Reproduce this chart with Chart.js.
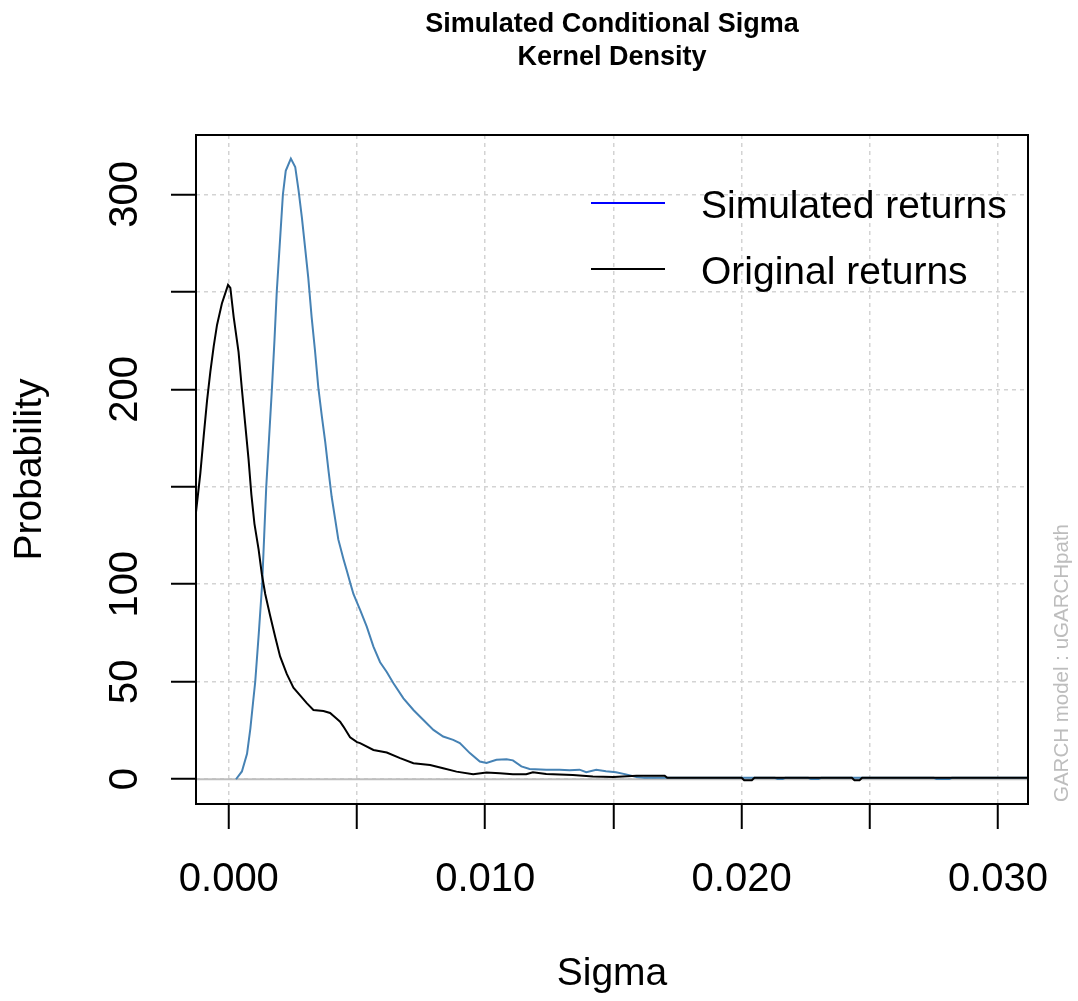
<!DOCTYPE html>
<html lang="en">
  <head>
    <meta charset="UTF-8" />
    <title>Simulated Conditional Sigma - Kernel Density</title>
    <script src="https://cdn.jsdelivr.net/npm/chart.js"></script>
    <style>
      html,
      body {
        margin: 0;
        padding: 0;
        background: #fff;
      }
      canvas {
        display: block;
      }
    </style>
  </head>
  <body>
    <canvas id="densityChart" width="1078" height="1001"></canvas>

    <script>
      // density of the simulated conditional sigma
      const simSigma = [
        0.00028, 0.00051, 0.00071, 0.00084, 0.00095, 0.00103, 0.00117, 0.0013,
        0.00138, 0.00146, 0.00157, 0.00168, 0.00178, 0.00187, 0.00199, 0.00211,
        0.00222, 0.00242, 0.00259, 0.00272, 0.00285, 0.00298, 0.0031, 0.00323,
        0.00336, 0.00349, 0.00363, 0.00376, 0.00389, 0.00401, 0.00414, 0.00427,
        0.00447, 0.0046, 0.00475, 0.00486, 0.00505, 0.00512, 0.00538, 0.00564,
        0.0059, 0.00616, 0.00642, 0.00681, 0.0072, 0.00759, 0.00798, 0.00836,
        0.00875, 0.00901, 0.0094, 0.00979, 0.01005, 0.01044, 0.01083, 0.01108,
        0.01141, 0.01173, 0.01238, 0.0129, 0.01329, 0.01368, 0.01394, 0.01433,
        0.01471, 0.0151, 0.01549, 0.0159, 0.0162, 0.0213, 0.0214, 0.0216,
        0.0217, 0.0226, 0.0227, 0.0230, 0.0231, 0.0275, 0.0276, 0.0281, 0.0282,
        0.0312,
      ];
      const simDensity = [
        0, 4, 13, 26, 40, 50, 75, 100, 125, 150, 175, 200, 225, 250, 275, 300,
        312, 318.3, 314, 302, 288, 272, 257, 237, 220, 201, 186, 173, 158, 145,
        134, 123, 113, 107, 100, 95, 89, 86.8, 78.3, 68, 60, 55, 49.2, 41.5,
        35.5, 30.4, 25.3, 21.9, 20.2, 18.5, 13.4, 9.1, 8.3, 10, 10.3, 9.7, 6.6,
        5.3, 4.9, 4.9, 4.6, 4.9, 3.6, 4.9, 4.1, 3.6, 2.5, 1.2, 0.7, 0.7, 0.1,
        0.1, 0.7, 0.7, 0.1, 0.1, 0.7, 0.7, 0.1, 0.1, 0.7, 0.7,
      ];

      // density of the original conditional sigma
      const origSigma = [
        -0.00128, -0.00111, -0.00098, -0.00085, -0.00072, -0.00059, -0.00046,
        -0.00027, -0.00003, 0.00006, 0.00019, 0.00038, 0.00051, 0.00064,
        0.00077, 0.00088, 0.001, 0.00116, 0.00129, 0.00142, 0.00161, 0.00181,
        0.002, 0.00226, 0.00252, 0.00278, 0.00304, 0.0033, 0.00369, 0.00395,
        0.00421, 0.00434, 0.00447, 0.00473, 0.005, 0.00512, 0.00564, 0.00616,
        0.00668, 0.0072, 0.00785, 0.00836, 0.00888, 0.00953, 0.01005, 0.01057,
        0.01108, 0.0116, 0.01186, 0.01238, 0.01342, 0.0142, 0.015, 0.0159,
        0.0170, 0.0171, 0.0200, 0.0201, 0.0204, 0.0205, 0.0243, 0.0244, 0.0246,
        0.0247, 0.0312,
      ];
      const origDensity = [
        137, 157, 176, 194, 209, 222, 233, 244, 253.5, 252, 237, 219, 200, 182,
        164, 146, 131, 118, 105, 95, 84, 73, 63, 54, 47, 43, 39, 35.5, 35, 34,
        31, 29.5, 27, 21.5, 19, 18.5, 15, 13.7, 10.8, 8.2, 7.3, 5.6, 3.9, 2.6,
        3.4, 3.1, 2.6, 2.6, 3.6, 2.7, 2.2, 1.4, 1.2, 1.8, 1.8, 0.7, 0.7, -0.5,
        -0.5, 0.7, 0.7, -0.5, -0.5, 0.7, 0.7,
      ];

      const seriesNames = ["Simulated returns", "Original returns"];
      const xTicks = [0, 0.005, 0.01, 0.015, 0.02, 0.025, 0.03];
      const xTickLabels = ["0.000", "", "0.010", "", "0.020", "", "0.030"];
      const yTicks = [0, 50, 100, 150, 200, 250, 300];
      const yTickLabels = ["0", "50", "100", "", "200", "", "300"];

      const FONT = '"Liberation Sans", Arial, sans-serif';
      Chart.defaults.font.family = FONT;
      Chart.defaults.color = "#000";

      const toPoints = (xs, ys) => xs.map((x, i) => ({ x: x, y: ys[i] }));

      // base-graphics look: box, zero line, legend and side note
      const rDecor = {
        id: "rDecor",
        beforeDatasetsDraw(chart) {
          const { ctx, chartArea, scales } = chart;
          const y0 = scales.y.getPixelForValue(0);
          ctx.save();
          ctx.strokeStyle = "#bebebe";
          ctx.lineWidth = 2;
          ctx.beginPath();
          ctx.moveTo(chartArea.left, y0);
          ctx.lineTo(chartArea.right, y0);
          ctx.stroke();
          ctx.restore();
        },
        afterDraw(chart) {
          const { ctx, chartArea } = chart;
          ctx.save();
          ctx.strokeStyle = "#000";
          ctx.lineWidth = 2;
          ctx.strokeRect(
            chartArea.left,
            chartArea.top,
            chartArea.right - chartArea.left,
            chartArea.bottom - chartArea.top
          );

          // legend, no frame
          const legendColors = ["#0000ff", "#000000"];
          ctx.font = "39px " + FONT;
          ctx.textBaseline = "alphabetic";
          ctx.textAlign = "left";
          seriesNames.forEach((name, i) => {
            const ly = 203 + i * 66;
            ctx.strokeStyle = legendColors[i];
            ctx.lineWidth = 2;
            ctx.beginPath();
            ctx.moveTo(591, ly);
            ctx.lineTo(665, ly);
            ctx.stroke();
            ctx.fillStyle = "#000";
            ctx.fillText(name, 701, ly + 15);
          });

          // model note in the right margin
          ctx.translate(1068, 802);
          ctx.rotate(-Math.PI / 2);
          ctx.font = "20.5px " + FONT;
          ctx.fillStyle = "#bdbdbd";
          ctx.fillText("GARCH model : uGARCHpath", 0, 0);
          ctx.restore();
        },
      };

      const ctx = document.getElementById("densityChart").getContext("2d");
      const densityChart = new Chart(ctx, {
        type: "line",
        data: {
          datasets: [
            {
              label: seriesNames[0],
              data: toPoints(simSigma, simDensity),
              borderColor: "#4682b4",
              borderWidth: 2,
              pointRadius: 0,
              tension: 0,
              order: 2,
            },
            {
              label: seriesNames[1],
              data: toPoints(origSigma, origDensity),
              borderColor: "#000000",
              borderWidth: 2,
              pointRadius: 0,
              tension: 0,
              order: 1,
            },
          ],
        },
        options: {
          responsive: false,
          animation: false,
          layout: { padding: { left: 0, right: 50, top: 0, bottom: 0 } },
          scales: {
            x: {
              type: "linear",
              min: -0.00128,
              max: 0.03117,
              afterBuildTicks: (scale) => {
                scale.ticks = xTicks.map((v) => ({ value: v }));
              },
              afterFit: (scale) => {
                scale.height = 197;
              },
              ticks: {
                callback: (value, index) => xTickLabels[index],
                font: { size: 40 },
                color: "#000",
                padding: 27,
                maxRotation: 0,
                autoSkip: false,
              },
              grid: {
                color: "#d3d3d3",
                lineWidth: 1.5,
                tickLength: 25,
                tickColor: "#000",
                tickWidth: 2,
              },
              border: { display: false, dash: [4, 4] },
              title: {
                display: true,
                text: "Sigma",
                font: { size: 39 },
                padding: { top: 0, bottom: 3 },
              },
            },
            y: {
              type: "linear",
              min: -12.7,
              max: 330.4,
              afterBuildTicks: (scale) => {
                scale.ticks = yTicks.map((v) => ({ value: v }));
              },
              afterFit: (scale) => {
                scale.width = 196;
              },
              ticks: {
                callback: (value, index) => yTickLabels[index],
                font: { size: 40 },
                color: "#000",
                minRotation: 90,
                maxRotation: 90,
                crossAlign: "center",
                padding: 12,
                autoSkip: false,
              },
              grid: {
                color: "#d3d3d3",
                lineWidth: 1.5,
                tickLength: 25,
                tickColor: "#000",
                tickWidth: 2,
              },
              border: { display: false, dash: [4, 4] },
              title: {
                display: true,
                text: "Probability",
                font: { size: 39 },
                padding: { top: 7, bottom: 0 },
              },
            },
          },
          plugins: {
            legend: { display: false },
            tooltip: { enabled: false },
            title: {
              display: true,
              text: ["Simulated Conditional Sigma", "Kernel Density"],
              fullSize: false,
              color: "#000",
              font: { size: 27, weight: "bold", lineHeight: 33 / 27 },
              padding: { top: 8, bottom: 61 },
            },
          },
        },
        plugins: [rDecor],
      });
    </script>
  </body>
</html>
